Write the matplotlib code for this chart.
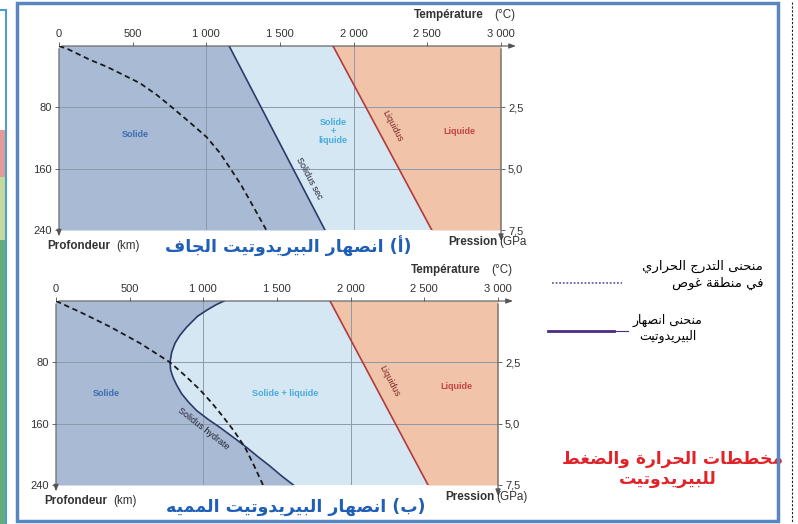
import matplotlib
matplotlib.use("Agg")
import matplotlib.pyplot as plt
from matplotlib.patches import Rectangle
from matplotlib.lines import Line2D

## data
temp_ticks = [0, 500, 1000, 1500, 2000, 2500, 3000]
temp_labels = ["0", "500", "1 000", "1 500", "2 000", "2 500", "3 000"]
depth_ticks = [80, 160, 240]
press_ticks = [2.5, 5.0, 7.5]
press_labels = ["2,5", "5,0", "7,5"]

# (a) dry peridotite
dry_depth = [0, 240]
dry_solidus = [1155, 1805]
dry_liquidus = [1860, 2530]
geo_a_depth = [0, 4, 9.6, 18, 27, 38, 48.5, 64, 80, 100, 119, 139, 159, 180, 202, 222, 241]
geo_a_temp = [0, 60, 120, 210, 324, 440, 550, 665, 767, 890, 1003, 1090, 1160, 1232, 1297, 1355, 1410]

# (b) hydrated peridotite
wet_depth = [0, 5, 12, 20, 34, 45, 55, 67, 80, 90, 100, 110, 121, 132, 143, 154,
             165, 178, 191, 203, 215, 228, 240]
wet_solidus = [1140, 1085, 1023, 960, 887, 840, 808, 785, 774, 778, 795, 820, 853,
               900, 955, 1030, 1113, 1205, 1294, 1370, 1450, 1530, 1611]
wet_liq_depth = [0, 240]
wet_liquidus = [1860, 2525]
geo_b_depth = [0, 15, 33.6, 55, 80, 98, 116, 133, 150, 170, 191, 215, 240]
geo_b_temp = [0, 170, 367, 570, 774, 880, 978, 1058, 1130, 1210, 1283, 1345, 1405]

## arabic shaping (matplotlib draws glyphs left to right, unjoined)
AR = {
    'ا': (0xFE8D, 0xFE8E, None, None), 'أ': (0xFE83, 0xFE84, None, None),
    'إ': (0xFE87, 0xFE88, None, None), 'ب': (0xFE8F, 0xFE90, 0xFE91, 0xFE92),
    'ة': (0xFE93, 0xFE94, None, None), 'ت': (0xFE95, 0xFE96, 0xFE97, 0xFE98),
    'ج': (0xFE9D, 0xFE9E, 0xFE9F, 0xFEA0), 'ح': (0xFEA1, 0xFEA2, 0xFEA3, 0xFEA4),
    'خ': (0xFEA5, 0xFEA6, 0xFEA7, 0xFEA8), 'د': (0xFEA9, 0xFEAA, None, None),
    'ر': (0xFEAD, 0xFEAE, None, None), 'ز': (0xFEAF, 0xFEB0, None, None),
    'س': (0xFEB1, 0xFEB2, 0xFEB3, 0xFEB4), 'ص': (0xFEB9, 0xFEBA, 0xFEBB, 0xFEBC),
    'ض': (0xFEBD, 0xFEBE, 0xFEBF, 0xFEC0), 'ط': (0xFEC1, 0xFEC2, 0xFEC3, 0xFEC4),
    'غ': (0xFECD, 0xFECE, 0xFECF, 0xFED0), 'ف': (0xFED1, 0xFED2, 0xFED3, 0xFED4),
    'ق': (0xFED5, 0xFED6, 0xFED7, 0xFED8), 'ل': (0xFEDD, 0xFEDE, 0xFEDF, 0xFEE0),
    'م': (0xFEE1, 0xFEE2, 0xFEE3, 0xFEE4), 'ن': (0xFEE5, 0xFEE6, 0xFEE7, 0xFEE8),
    'ه': (0xFEE9, 0xFEEA, 0xFEEB, 0xFEEC), 'و': (0xFEED, 0xFEEE, None, None),
    'ى': (0xFEEF, 0xFEF0, None, None), 'ي': (0xFEF1, 0xFEF2, 0xFEF3, 0xFEF4),
}


def ar(text):
    out = []
    for i, c in enumerate(text):
        if c not in AR:
            out.append(c)
            continue
        prev = text[i - 1] if i > 0 else ""
        nxt = text[i + 1] if i + 1 < len(text) else ""
        jp = prev in AR and AR[prev][2] is not None
        jn = nxt in AR and AR[c][2] is not None
        iso, fin, ini, med = AR[c]
        if jp and jn:
            g = med
        elif jp:
            g = fin
        elif jn:
            g = ini
        else:
            g = iso
        out.append(chr(g))
    s = "".join(out)[::-1]
    return s.translate(str.maketrans("()", ")("))


W, H = 798, 524
plt.rcParams["font.family"] = ["Liberation Sans", "DejaVu Sans"]
fig = plt.figure(figsize=(W / 100, H / 100), dpi=100)


def fx(x):
    return x / W


def fy(y):
    return 1 - y / H


C_SOL = "#a9bbd4"
C_MIX = "#d6e7f4"
C_LIQ = "#f1c3a9"
C_GRID = "#8c9aab"
C_TXT = "#333333"
AX_FS = 8.4


def panel(left_px, top_px, sol_d, sol_t, liq_d, liq_t, geo_d, geo_t,
          sol_name, sol_xy, sol_rot, mix_label, mix_xy, close_paren):
    right_px = left_px + 442
    bot_px = top_px + 184
    ax = fig.add_axes([fx(left_px), fy(bot_px), fx(right_px) - fx(left_px),
                       fy(top_px) - fy(bot_px)])
    ax.set_xlim(0, 3000)
    ax.set_ylim(240, 0)
    for s in ax.spines.values():
        s.set_visible(False)
    ax.set_facecolor("none")

    # phase fields
    ax.fill_betweenx(sol_d, 0, sol_t, color=C_SOL, lw=0)
    ax.fill_betweenx([0, 240], 0, 3000, color=C_MIX, lw=0, zorder=0)
    ax.fill_betweenx(liq_d, liq_t, 3000, color=C_LIQ, lw=0)

    # grid
    for t in [1000, 2000]:
        ax.axvline(t, color=C_GRID, lw=0.7, zorder=1)
    for d in [80, 160]:
        ax.axhline(d, color=C_GRID, lw=0.7, zorder=1)
    ax.axvline(3000, color="#7d7d7d", lw=0.8, zorder=1)

    # curves
    ax.plot(sol_t, sol_d, color="#2b3c6b", lw=1.2, zorder=3)
    ax.plot(liq_t, liq_d, color="#b23a3a", lw=1.2, zorder=3)
    ax.plot(geo_t, geo_d, color="#1a1a1a", lw=1.3, ls=(0, (3, 2)), zorder=4)

    # axes with arrows
    arr = dict(arrowstyle="-|>,head_length=0.4,head_width=0.15", color="#555555", lw=0.8)
    ax.annotate("", xy=(3120, 0), xytext=(0, 0), arrowprops=arr, annotation_clip=False)
    ax.annotate("", xy=(0, 252), xytext=(0, 0), arrowprops=arr, annotation_clip=False)
    ax.annotate("", xy=(3000, 258), xytext=(3000, 0), arrowprops=arr, annotation_clip=False)

    ax.xaxis.tick_top()
    ax.set_xticks(temp_ticks)
    ax.set_xticklabels(temp_labels)
    ax.set_yticks(depth_ticks)
    ax.tick_params(axis="both", direction="out", length=3, width=0.7, color="#666666",
                   labelsize=8, labelcolor=C_TXT, pad=2)

    axr = ax.twinx()
    axr.set_ylim(7.5, 0)
    axr.set_yticks(press_ticks)
    axr.set_yticklabels(press_labels)
    for s in axr.spines.values():
        s.set_visible(False)
    axr.tick_params(axis="y", direction="out", length=3, width=0.7, color="#666666",
                    labelsize=8, labelcolor=C_TXT, pad=2)

    # axis titles
    ax.text(2880, -40, "Température", ha="right", va="center", fontsize=AX_FS,
            fontweight="bold", color=C_TXT, clip_on=False)
    ax.text(3100, -40, "(°C)", ha="right", va="center", fontsize=AX_FS,
            color=C_TXT, clip_on=False)
    ax.text(-80, 261, "Profondeur", ha="left", va="center", fontsize=AX_FS,
            fontweight="bold", color=C_TXT, clip_on=False)
    ax.text(550, 261, "(km)", ha="right", va="center", fontsize=AX_FS,
            color=C_TXT, clip_on=False)
    ax.text(2640, 256, "Pression", ha="left", va="center", fontsize=AX_FS,
            fontweight="bold", color=C_TXT, clip_on=False)
    ax.text(2990, 256, "(GPa)" if close_paren else "(GPa", ha="left", va="center",
            fontsize=AX_FS, color=C_TXT, clip_on=False)

    # field labels
    ax.text(sol_xy[0], sol_xy[1], "Solide", ha="center", va="center", fontsize=6.5,
            fontweight="bold", color="#3c6cb0")
    ax.text(mix_xy[0], mix_xy[1], mix_label, ha="center", va="center", fontsize=6.5,
            fontweight="bold", color="#47acdc", linespacing=1.0)
    ax.text(2720, 112, "Liquide", ha="center", va="center", fontsize=6.5,
            fontweight="bold", color="#c64646")
    ax.text(2265, 105, "Liquidus", ha="center", va="center", fontsize=6.5,
            rotation=-62, color="#7a2525")
    ax.text(sol_name[1], sol_name[2], sol_name[0], ha="center", va="center",
            fontsize=6.5, rotation=sol_rot, color="#222233")
    return ax


panel(59, 46, dry_depth, dry_solidus, dry_depth, dry_liquidus,
      geo_a_depth, geo_a_temp, ("Solidus sec", 1700, 172), (520, 115), -62,
      "Solide\n+\nliquide", (1860, 112), False)
panel(56, 301, wet_depth, wet_solidus, wet_liq_depth, wet_liquidus,
      geo_b_depth, geo_b_temp, ("Solidus hydrate", 1000, 167), (344, 121), -38,
      "Solide + liquide", (1555, 120), True)

## titles
C_BLUE = "#1f5fb5"
fig.text(fx(288), fy(246), ar("(أ) انصهار البيريدوتيت الجاف"), ha="center", va="center",
         fontsize=12.5, fontweight="bold", color=C_BLUE, family="DejaVu Sans")
fig.text(fx(296), fy(507), ar("(ب) انصهار البيريدوتيت المميه"), ha="center", va="center",
         fontsize=12.5, fontweight="bold", color=C_BLUE, family="DejaVu Sans")

## legend
fig.text(fx(763), fy(266), ar("منحنى التدرج الحراري"), ha="right", va="center",
         fontsize=9.5, color="black", family="DejaVu Sans")
fig.text(fx(763), fy(283), ar("في منطقة غوص"), ha="right", va="center",
         fontsize=9.5, color="black", family="DejaVu Sans")
fig.add_artist(Line2D([fx(552), fx(622)], [fy(283), fy(283)], color="#6a5fb0",
                      lw=1.3, ls=(0, (1, 1))))
fig.text(fx(668), fy(320), ar("منحنى انصهار"), ha="center", va="center",
         fontsize=9, color="black", family="DejaVu Sans")
fig.text(fx(668), fy(336), ar("البيريدوتيت"), ha="center", va="center",
         fontsize=9, color="black", family="DejaVu Sans")
fig.add_artist(Line2D([fx(548), fx(614)], [fy(331), fy(331)], color="#4b2d7f", lw=2))
fig.add_artist(Line2D([fx(614), fx(628)], [fy(331), fy(331)], color="#4b2d7f", lw=0.8))

fig.text(fx(672), fy(459), ar("مخططات الحرارة والضغط"), ha="center", va="center",
         fontsize=12.3, fontweight="bold", color="#e0242a", family="DejaVu Sans")
fig.text(fx(668), fy(479), ar("للبيريدوتيت"), ha="center", va="center",
         fontsize=12.5, fontweight="bold", color="#e0242a", family="DejaVu Sans")

## frame and page edges
fig.add_artist(Rectangle((fx(17), fy(521)), fx(778) - fx(17), fy(3) - fy(521),
                         fill=False, ec="#5a86c0", lw=2.5, zorder=10))
fig.add_artist(Line2D([fx(792), fx(792)], [fy(2), fy(522)], color="#222222",
                      lw=0.8, ls=(0, (2, 1.5))))
fig.add_artist(Rectangle((0, fy(177)), fx(6), fy(130) - fy(177), color="#e49a9a", lw=0))
fig.add_artist(Rectangle((0, fy(240)), fx(6), fy(177) - fy(240), color="#c4da9c", lw=0))
fig.add_artist(Rectangle((0, 0), fx(6), fy(240), color="#66ac7b", lw=0))
fig.add_artist(Line2D([fx(6), fx(6)], [0, fy(10)], color="#4aa0c8", lw=1.5))
fig.add_artist(Line2D([0, fx(6)], [fy(10), fy(10)], color="#4aa0c8", lw=1.5))

fig.savefig("out.png", dpi=100)
